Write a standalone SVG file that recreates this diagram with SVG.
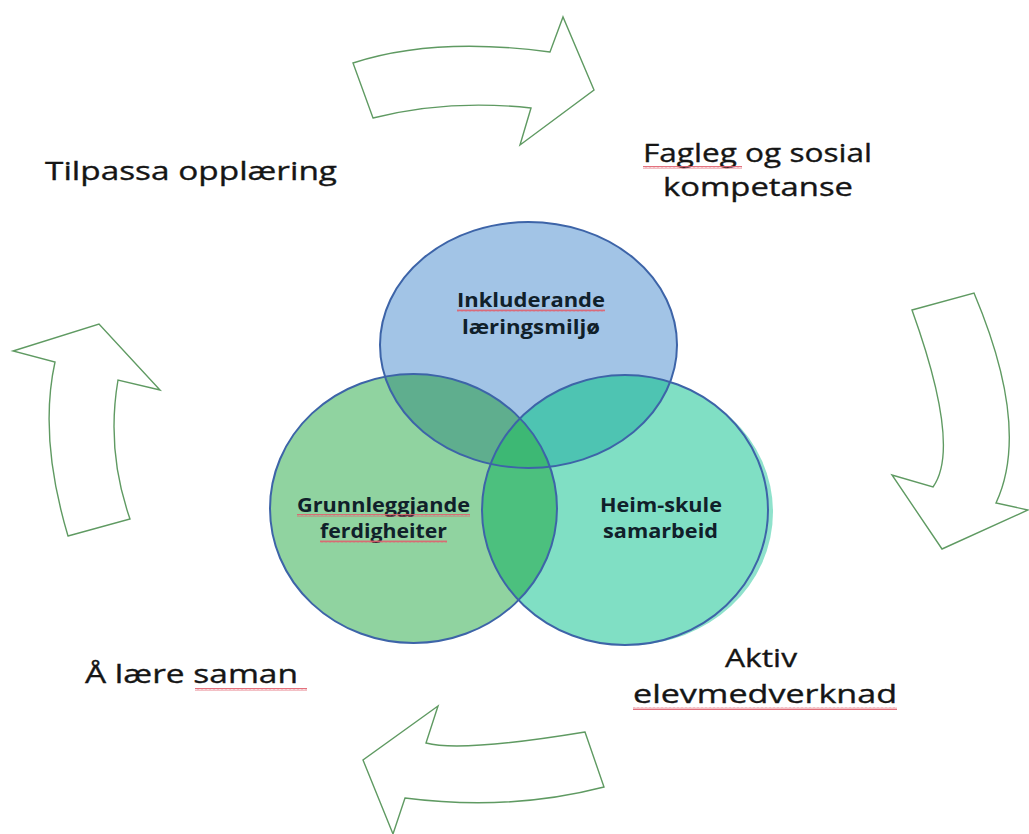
<svg xmlns="http://www.w3.org/2000/svg" width="1029" height="834" viewBox="0 0 1029 834">
<defs>
<style>
.arrow{fill:#ffffff;stroke:#5f9a62;stroke-width:1.4;stroke-linejoin:miter}
.ring{fill:none;stroke:#3d64a8;stroke-width:2}
.outer{font-family:"Open Sans","Liberation Sans",sans-serif;font-size:26px;fill:#151515;stroke:#151515;stroke-width:0.35}
.inner{font-family:"Open Sans","Liberation Sans",sans-serif;font-size:20px;font-weight:bold;fill:#10202a;text-anchor:middle}
.sq{fill:url(#squig)}
</style>
<pattern id="squig" x="0" y="0" width="4" height="3" patternUnits="userSpaceOnUse">
<polyline points="0,2.5 1,0.5 2,2.5 3,0.5 4,2.5" fill="none" stroke="#e0606e" stroke-width="0.9"/>
</pattern>
<ellipse id="eTop" cx="528.5" cy="345" rx="148.5" ry="123"/>
<ellipse id="eLeft" cx="413.5" cy="508.5" rx="143.5" ry="134.5"/>
<ellipse id="eRight" cx="625" cy="510" rx="143" ry="135"/>
<clipPath id="cTop"><use href="#eTop"/></clipPath>
<clipPath id="cLeft"><use href="#eLeft"/></clipPath>
<clipPath id="cRight"><use href="#eRight"/></clipPath>
</defs>
<rect width="1029" height="834" fill="#ffffff"/>

<g id="connectors">
<path class="arrow" d="M353,63 Q434.5,36.5 550,52 L563,17 L594,90 L520,145 L531,108 Q448,99 373,118 Z"/>
<path class="arrow" d="M912,310 L974,293 Q1031,428 996,503 L1028,510 L942,549 L892,475 L933,487 Q961.5,447.5 912,310 Z"/>
<path class="arrow" d="M585,732 L604,787 Q509.5,811.5 405,798 L393,834 L363,760 L438,706 L426,743 Q460.5,752.5 585,732 Z"/>
<path class="arrow" d="M68,536 L130,519 Q106,450.5 118,380 L160,390 L99,324 L13,351 L55,362 Q38.5,437 68,536 Z"/>
</g>

<g id="fills">
<ellipse cx="630" cy="512" rx="143" ry="133" fill="#8fe2cc"/>
<use href="#eTop" fill="#a2c4e6"/>
<use href="#eLeft" fill="#90d3a0"/>
<use href="#eRight" fill="#80dfc4"/>
<use href="#eLeft" fill="#4cc07e" clip-path="url(#cRight)"/>
<use href="#eLeft" fill="#5fae8e" clip-path="url(#cTop)"/>
<use href="#eRight" fill="#4ec4b2" clip-path="url(#cTop)"/>
<g clip-path="url(#cTop)"><use href="#eLeft" fill="#3db874" clip-path="url(#cRight)"/></g>
</g>

<g id="node-inkluderande">
<use href="#eTop" class="ring"/>
<text class="inner" x="531" y="307" textLength="148" lengthAdjust="spacingAndGlyphs">Inkluderande</text>
<text class="inner" x="531" y="334" textLength="138" lengthAdjust="spacingAndGlyphs">læringsmiljø</text>
<rect class="sq" x="457" y="309" width="148" height="3"/>
</g>

<g id="node-grunnleggjande">
<use href="#eLeft" class="ring"/>
<text class="inner" x="383.5" y="512" textLength="173" lengthAdjust="spacingAndGlyphs">Grunnleggjande</text>
<text class="inner" x="383.5" y="538" textLength="127" lengthAdjust="spacingAndGlyphs">ferdigheiter</text>
<rect class="sq" x="297" y="514" width="173" height="3"/>
<rect class="sq" x="320" y="540" width="127" height="3"/>
</g>

<g id="node-heim-skule">
<use href="#eRight" class="ring"/>
<text class="inner" x="661" y="512" textLength="122" lengthAdjust="spacingAndGlyphs">Heim-skule</text>
<text class="inner" x="660.5" y="538" textLength="115" lengthAdjust="spacingAndGlyphs">samarbeid</text>
</g>

<g id="label-tilpassa">
<text class="outer" x="45" y="180" textLength="292" lengthAdjust="spacingAndGlyphs">Tilpassa opplæring</text>
</g>

<g id="label-fagleg">
<text class="outer" x="643" y="162" textLength="229" lengthAdjust="spacingAndGlyphs">Fagleg og sosial</text>
<text class="outer" x="663" y="196" textLength="190" lengthAdjust="spacingAndGlyphs">kompetanse</text>
<rect class="sq" x="643" y="166" width="99" height="3"/>
</g>

<g id="label-aktiv">
<text class="outer" x="725" y="667" textLength="72" lengthAdjust="spacingAndGlyphs">Aktiv</text>
<text class="outer" x="633" y="703" textLength="264" lengthAdjust="spacingAndGlyphs">elevmedverknad</text>
<rect class="sq" x="633" y="707" width="264" height="3"/>
</g>

<g id="label-laere">
<text class="outer" x="85" y="683" textLength="213" lengthAdjust="spacingAndGlyphs">Å lære saman</text>
<rect class="sq" x="195" y="688" width="112" height="3"/>
</g>
</svg>
